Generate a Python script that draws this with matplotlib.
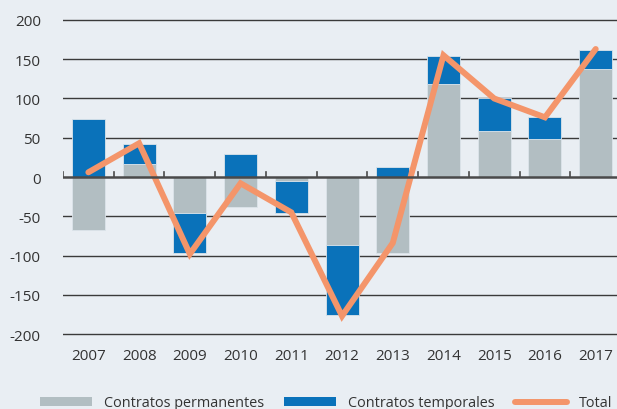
import numpy as np
import matplotlib
matplotlib.use("Agg")
import matplotlib.pyplot as plt
from matplotlib.patches import Patch
from matplotlib.lines import Line2D

# Data (thousands)
years = ["2007", "2008", "2009", "2010", "2011", "2012", "2013", "2014", "2015", "2016", "2017"]
permanentes = [-68, 16, -46, -38, -5, -86, -97, 119, 59, 48, 137]
temporales = [74, 26, -51, 29, -41, -90, 13, 35, 41, 28, 25]
total = [6, 43, -98, -8, -45, -177, -84, 155, 100, 76, 163]

bg = "#E9EEF3"
c_perm = "#B2BEC2"
c_temp = "#0A72BA"
c_total = "#F4956A"
txt = "#333333"

plt.rcParams["font.family"] = ["Open Sans", "DejaVu Sans"]
plt.rcParams["axes.unicode_minus"] = False

fig = plt.figure(figsize=(6.17, 4.10), dpi=100, facecolor=bg)
ax = fig.add_axes([0.1021, 0.177, 0.9045, 0.7776])
ax.set_facecolor(bg)

x = np.arange(len(years))
perm = np.array(permanentes)
temp = np.array(temporales)
# stack temp on top of perm when same sign, otherwise from zero
bottom_temp = np.where(np.sign(perm) == np.sign(temp), perm, 0)

ax.bar(x, perm, width=0.65, color=c_perm, edgecolor="#DCE4EA", linewidth=0.6, zorder=3)
ax.bar(x, temp, bottom=bottom_temp, width=0.65, color=c_temp, edgecolor="#DCE4EA",
       linewidth=0.6, zorder=3)
ax.plot(x, total, color=c_total, linewidth=4.3, solid_capstyle="round",
        solid_joinstyle="miter", zorder=4)

for y in [-200, -150, -100, -50, 50, 100, 150, 200]:
    ax.axhline(y, color="#3a3a3a", linewidth=1.0, zorder=1)
ax.axhline(0, color="#4a4a4a", linewidth=1.8, zorder=5)
# small category separators on the zero line
for b in np.arange(-0.5, len(years), 1.0):
    ax.plot([b, b], [0, 6], color="#4a4a4a", linewidth=1.2, zorder=5)

ax.set_xlim(-0.5, len(years) - 0.5)
ax.set_ylim(-203, 203)
ax.set_yticks(np.arange(-200, 201, 50))
ax.set_xticks(x)
ax.set_xticklabels(years)
ax.tick_params(axis="both", length=0, labelsize=11, colors=txt)
ax.tick_params(axis="x", pad=8)
ax.tick_params(axis="y", pad=16)
for s in ax.spines.values():
    s.set_visible(False)

handles = [
    Patch(facecolor=c_perm, edgecolor="none"),
    Patch(facecolor=c_temp, edgecolor="none"),
    Line2D([0], [0], color=c_total, linewidth=4.3, solid_capstyle="round"),
]
labels = ["Contratos permanentes", "Contratos temporales", "Total"]
fig.legend(handles, labels, loc="lower left", bbox_to_anchor=(0.044, -0.035), ncol=3,
           frameon=False, fontsize=10.4, handlelength=3.6, handleheight=0.6,
           handletextpad=0.83, columnspacing=1.4, labelcolor=txt)

fig.savefig("out.png", dpi=100, facecolor=bg)
